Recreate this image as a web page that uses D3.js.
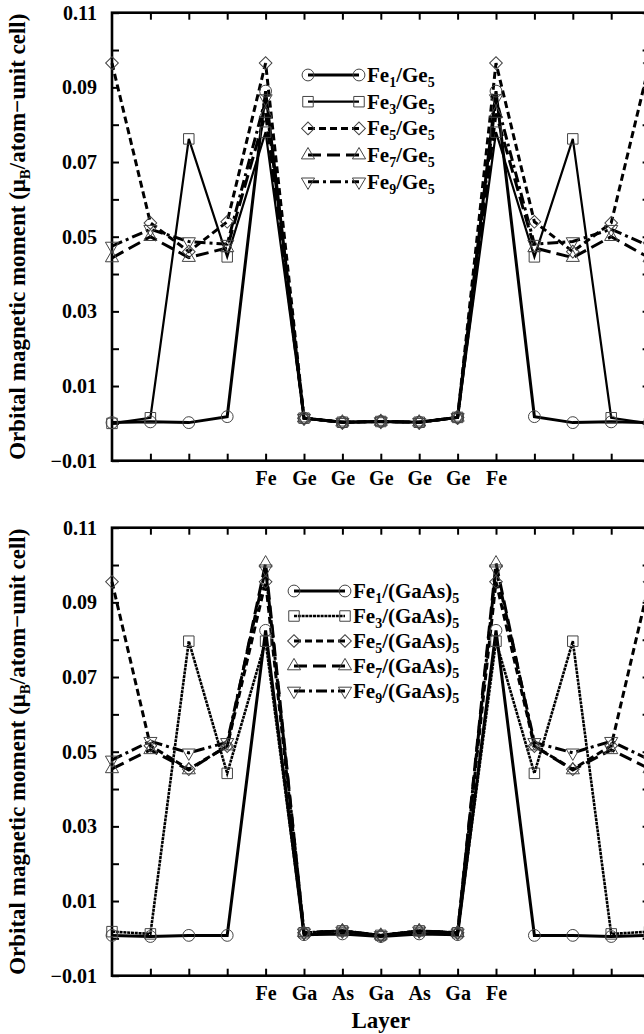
<!DOCTYPE html>
<html>
<head>
<meta charset="utf-8">
<script src="https://cdn.jsdelivr.net/npm/d3@7"></script>
<style>
  body { margin: 0; background: #fff; }
  text { font-family: "Liberation Serif", "Times New Roman", serif; font-weight: bold; fill: #000; }
</style>
</head>
<body>
<svg id="chart"></svg>
<script>
// layer index 0..14, labels only under the Fe / spacer layers
var layersGe   = ["", "", "", "", "Fe", "Ge", "Ge", "Ge", "Ge", "Ge", "Fe", "", "", "", ""];
var layersGaAs = ["", "", "", "", "Fe", "Ga", "As", "Ga", "As", "Ga", "Fe", "", "", "", ""];

// Fe_n/Ge_5
var fe1Ge = [0.0002, 0.0004, 0.0002, 0.0018, 0.0890, 0.0014, 0.0003, 0.0005, 0.0003, 0.0016, 0.0890, 0.0018, 0.0002, 0.0004, 0.0002];
var fe3Ge = [0.0000, 0.0015, 0.0762, 0.0446, 0.0780, 0.0014, 0.0003, 0.0005, 0.0003, 0.0016, 0.0780, 0.0446, 0.0762, 0.0015, 0.0000];
var fe5Ge = [0.0965, 0.0537, 0.0460, 0.0540, 0.0965, 0.0014, 0.0003, 0.0005, 0.0003, 0.0016, 0.0965, 0.0540, 0.0460, 0.0537, 0.0965];
var fe7Ge = [0.0443, 0.0500, 0.0444, 0.0470, 0.0830, 0.0014, 0.0003, 0.0005, 0.0003, 0.0016, 0.0830, 0.0470, 0.0444, 0.0500, 0.0443];
var fe9Ge = [0.0475, 0.0520, 0.0487, 0.0480, 0.0870, 0.0014, 0.0003, 0.0005, 0.0003, 0.0016, 0.0870, 0.0480, 0.0487, 0.0520, 0.0475];

// Fe_n/(GaAs)_5
var fe1GaAs = [0.0008, 0.0005, 0.0008, 0.0008, 0.0825, 0.0010, 0.0012, 0.0005, 0.0012, 0.0010, 0.0825, 0.0008, 0.0008, 0.0005, 0.0008];
var fe3GaAs = [0.0018, 0.0012, 0.0796, 0.0442, 0.0796, 0.0015, 0.0020, 0.0008, 0.0020, 0.0015, 0.0796, 0.0442, 0.0796, 0.0012, 0.0018];
var fe5GaAs = [0.0955, 0.0516, 0.0453, 0.0515, 0.0955, 0.0015, 0.0020, 0.0008, 0.0020, 0.0015, 0.0955, 0.0515, 0.0453, 0.0516, 0.0955];
var fe7GaAs = [0.0454, 0.0505, 0.0451, 0.0515, 0.1005, 0.0015, 0.0020, 0.0008, 0.0020, 0.0015, 0.1005, 0.0515, 0.0451, 0.0505, 0.0454];
var fe9GaAs = [0.0478, 0.0528, 0.0497, 0.0525, 0.0990, 0.0015, 0.0020, 0.0008, 0.0020, 0.0015, 0.0990, 0.0525, 0.0497, 0.0528, 0.0478];

var feCounts = ["1", "3", "5", "7", "9"];
var yTicks = d3.range(-0.01, 0.1101, 0.01);
var yLabels = [-0.01, 0.01, 0.03, 0.05, 0.07, 0.09, 0.11];

var width = 644, height = 1034;
var svg = d3.select("#chart").attr("width", width).attr("height", height);

var x = d3.scaleLinear().domain([0, 14]).range([112, 649.6]);

// line style + marker per series
var styles = [
  {dash: null,        w: 3,   sym: d3.symbolCircle,   size: 110, rot: 0},
  {dash: null,        w: 2.2, sym: d3.symbolSquare,   size: 110, rot: 0},
  {dash: "7,4",       w: 3,   sym: d3.symbolSquare,   size: 80,  rot: 45},
  {dash: "13,6",      w: 3,   sym: d3.symbolTriangle, size: 75,  rot: 0},
  {dash: "11,4,3,4",  w: 3,   sym: d3.symbolTriangle, size: 75,  rot: 180}
];

function drawPanel(top, layers, series, spacer, legendX, legendY, legendStep, fe3Dash){
  var y = d3.scaleLinear().domain([-0.01, 0.11]).range([top + 448, top]);
  var g = svg.append("g");

  var fmt = d3.format(".2f");
  var isLabel = function(v){ return yLabels.some(function(l){ return Math.abs(l - v) < 1e-6; }); };

  g.append("g").attr("transform", "translate(112,0)")
    .call(d3.axisLeft(y).tickValues(yTicks).tickSizeInner(-7).tickSizeOuter(0).tickPadding(15)
      .tickFormat(function(v){ return isLabel(v) ? fmt(v) : ""; }))
    .call(function(a){ a.select(".domain").remove(); });
  g.append("g").attr("transform", "translate(649.6,0)")
    .call(d3.axisRight(y).tickValues(yTicks).tickSizeInner(-7).tickSizeOuter(0).tickFormat(""))
    .call(function(a){ a.select(".domain").remove(); });
  g.append("g").attr("transform", "translate(0," + (top + 448) + ")")
    .call(d3.axisBottom(x).tickValues(d3.range(1, 14)).tickSizeInner(-7).tickSizeOuter(0).tickPadding(10)
      .tickFormat(function(i){ return layers[i]; }))
    .call(function(a){ a.select(".domain").remove(); });
  g.append("g").attr("transform", "translate(0," + top + ")")
    .call(d3.axisTop(x).tickValues(d3.range(1, 14)).tickSizeInner(-7).tickSizeOuter(0).tickFormat(""))
    .call(function(a){ a.select(".domain").remove(); });

  g.selectAll(".tick line").attr("stroke", "#000").attr("stroke-width", 2);
  g.selectAll(".tick text").attr("font-size", 20).attr("font-family", null);

  g.append("rect")
    .attr("x", x(0)).attr("y", top).attr("width", x(14) - x(0)).attr("height", 448)
    .attr("fill", "none").attr("stroke", "#000").attr("stroke-width", 2.6);

  var line = d3.line().x(function(d, i){ return x(i); }).y(function(d){ return y(d); });

  series.forEach(function(vals, k){
    var st = styles[k];
    var dash = (k === 1 && fe3Dash) ? fe3Dash : st.dash;
    var w = (k === 1 && fe3Dash) ? 2.6 : st.w;
    g.append("path").datum(vals)
      .attr("d", line)
      .attr("fill", "none").attr("stroke", "#000")
      .attr("stroke-width", w)
      .attr("stroke-dasharray", dash)
      .attr("stroke-linejoin", "miter");
  });
  series.forEach(function(vals, k){
    var st = styles[k];
    g.selectAll(null).data(vals).enter().append("path")
      .attr("d", d3.symbol().type(st.sym).size(st.size))
      .attr("transform", function(d, i){ return "translate(" + x(i) + "," + y(d) + ") rotate(" + st.rot + ")"; })
      .attr("fill", "none").attr("stroke", "#444").attr("stroke-width", 1);
  });

  // legend
  var lg = g.append("g");
  feCounts.forEach(function(n, k){
    var st = styles[k];
    var ly = legendY + k * legendStep;
    var x0 = legendX, x1 = legendX + 51;
    var dash = (k === 1 && fe3Dash) ? fe3Dash : st.dash;
    var w = (k === 1 && fe3Dash) ? 2.6 : st.w;
    lg.append("line").attr("x1", x0).attr("x2", x1).attr("y1", ly).attr("y2", ly)
      .attr("stroke", "#000").attr("stroke-width", w).attr("stroke-dasharray", dash);
    [x0, x1].forEach(function(px){
      lg.append("path").attr("d", d3.symbol().type(st.sym).size(st.size))
        .attr("transform", "translate(" + px + "," + ly + ") rotate(" + st.rot + ")")
        .attr("fill", "none").attr("stroke", "#444").attr("stroke-width", 1);
    });
    var t = lg.append("text").attr("x", x1 + 8).attr("y", ly + 7).attr("font-size", 21);
    t.append("tspan").text("Fe");
    t.append("tspan").attr("font-size", 14).attr("dy", 5).text(n);
    t.append("tspan").attr("dy", -5).text(spacer[0]);
    t.append("tspan").attr("font-size", 14).attr("dy", 5).text("5");
  });

  // y title
  var yt = g.append("text")
    .attr("transform", "translate(25," + (top + 224) + ") rotate(-90)")
    .attr("text-anchor", "middle").attr("font-size", 23);
  yt.append("tspan").text("Orbital magnetic moment (\u03bc");
  yt.append("tspan").attr("font-size", 15).attr("dy", 5).text("B");
  yt.append("tspan").attr("dy", -5).text("/atom\u2212unit cell)");
}

drawPanel(12.7, layersGe, [fe1Ge, fe3Ge, fe5Ge, fe7Ge, fe9Ge], ["/Ge"], 308, 75, 26.7, null);
drawPanel(527.7, layersGaAs, [fe1GaAs, fe3GaAs, fe5GaAs, fe7GaAs, fe9GaAs], ["/(GaAs)"], 294, 591, 25, "3,0.8");

svg.append("text").attr("x", x(7)).attr("y", 1028).attr("text-anchor", "middle")
  .attr("font-size", 23).text("Layer");
</script>
</body>
</html>
